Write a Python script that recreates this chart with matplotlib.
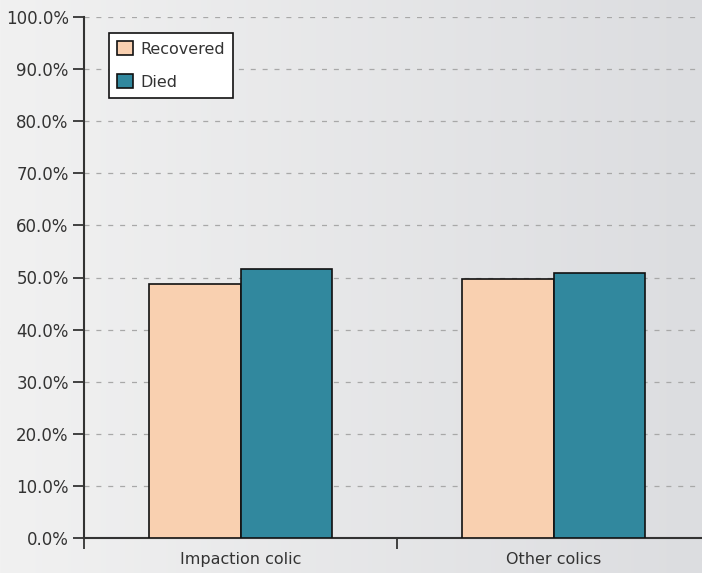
import matplotlib
matplotlib.use("Agg")
from matplotlib import pyplot as plt
from matplotlib.colors import LinearSegmentedColormap
import numpy as np

categories = ["Impaction colic", "Other colics"]
recovered = [48.7, 49.8]
died = [51.6, 50.9]
y_ticks = [0, 10, 20, 30, 40, 50, 60, 70, 80, 90, 100]

plt.rcParams['font.family'] = ['DejaVu Sans']

fig = plt.figure(figsize=(7.02, 5.73), dpi=100)

# background gradient over the whole figure
bg = fig.add_axes([0, 0, 1, 1], zorder=-10)
grad = np.linspace(0, 1, 256).reshape(1, -1)
cmap = LinearSegmentedColormap.from_list("bg", ["#f1f1f1", "#dcdde0"])
bg.imshow(grad, aspect="auto", cmap=cmap, extent=[0, 1, 0, 1])
bg.set_axis_off()

ax = fig.add_axes([84 / 702, 35 / 573, 626 / 702, 521 / 573])
ax.set_facecolor("none")

x = np.arange(len(categories))
w = 0.293
ax.bar(x - w / 2, recovered, w, color="#f9d0b0", edgecolor="#111111", linewidth=1.2,
       label="Recovered", zorder=3)
ax.bar(x + w / 2, died, w, color="#31889e", edgecolor="#111111", linewidth=1.2,
       label="Died", zorder=3)

ax.set_xlim(-0.5, 1.5)
ax.set_ylim(0, 100)
ax.set_yticks(y_ticks)
ax.set_yticklabels(["%.1f%%" % v for v in y_ticks])
ax.yaxis.grid(True, linestyle=(0, (4, 5.5)), color="#a8a8a8", linewidth=0.9, zorder=0)

ax.set_xticks(x)
ax.set_xticklabels(categories)
ax.set_xticks([-0.5, 0.5, 1.5], minor=True)
ax.tick_params(axis="x", which="major", length=0, pad=10, labelsize=11.5, colors="#333333")
ax.tick_params(axis="x", which="minor", length=8, width=1.3, color="#333333", direction="out")
ax.tick_params(axis="y", length=8, width=1.3, color="#333333", labelsize=12,
               labelcolor="#333333", pad=3)

for s in ["top", "right"]:
    ax.spines[s].set_visible(False)
for s in ["left", "bottom"]:
    ax.spines[s].set_color("#333333")
    ax.spines[s].set_linewidth(1.5)

leg = ax.legend(loc="upper left", bbox_to_anchor=(25 / 626, (538 - 33) / 521),
                borderaxespad=0, fancybox=False, framealpha=1, edgecolor="#111111",
                fontsize=11.5, handlelength=1.0, handleheight=1.0, handletextpad=0.45,
                labelspacing=1.1, borderpad=0.5)
leg.get_frame().set_linewidth(1.2)
for t in leg.get_texts():
    t.set_color("#333333")

fig.savefig("out.png", dpi=100)
